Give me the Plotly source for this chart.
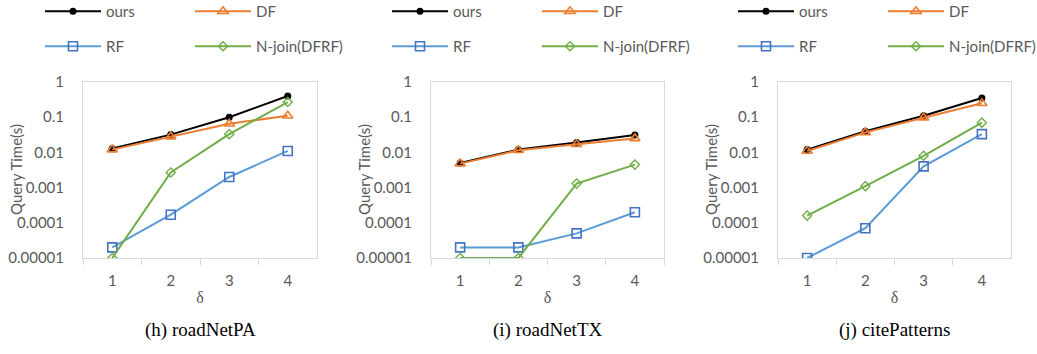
import plotly.graph_objects as go

deltas = ["1", "2", "3", "4"]
series_names = ["ours", "DF", "RF", "N-join(DFRF)"]
captions = ["(h) roadNetPA", "(i) roadNetTX", "(j) citePatterns"]

pa_ours = [0.013, 0.032, 0.10, 0.40]
pa_df = [0.012, 0.028, 0.065, 0.11]
pa_rf = [0.00002, 0.00017, 0.002, 0.011]
pa_nj = [0.00001, 0.0027, 0.033, 0.27]

tx_ours = [0.005, 0.012, 0.019, 0.031]
tx_df = [0.0048, 0.0115, 0.017, 0.025]
tx_rf = [0.00002, 0.00002, 0.00005, 0.0002]
tx_nj = [0.00001, 0.00001, 0.0013, 0.0045]

cp_ours = [0.012, 0.040, 0.11, 0.35]
cp_df = [0.011, 0.037, 0.097, 0.25]
cp_rf = [0.00001, 0.00007, 0.004, 0.033]
cp_nj = [0.00016, 0.0011, 0.008, 0.07]

y_tickvals = [0.00001, 0.0001, 0.001, 0.01, 0.1, 1]
y_ticktext = ["0.00001", "0.0001", "0.001", "0.01", "0.1", "1"]

panels = [
    [pa_ours, pa_df, pa_rf, pa_nj],
    [tx_ours, tx_df, tx_rf, tx_nj],
    [cp_ours, cp_df, cp_rf, cp_nj],
]

W, H = 1037, 354
GRAY = "#595959"
BORDER = "#d9d9d9"
FONT = "Lato"
FS = 15

styles = [
    dict(line=dict(color="#000000", width=2),
         marker=dict(symbol="circle", size=7, color="#000000")),
    dict(line=dict(color="#ED7D31", width=2),
         marker=dict(symbol="triangle-up-open", size=9, color="#ED7D31",
                     line=dict(width=1.6, color="#ED7D31"))),
    dict(line=dict(color="#5B9BD5", width=2),
         marker=dict(symbol="square-open", size=9, color="#4472C4",
                     line=dict(width=1.6, color="#4472C4"))),
    dict(line=dict(color="#70AD47", width=2),
         marker=dict(symbol="diamond-open", size=7, color="#70AD47",
                     line=dict(width=1.4, color="#70AD47"))),
]

# pixel geometry of plot areas
x_px = [(83, 317), (431, 664), (778, 1011)]
y_top, y_bot = 82, 258
legend_x_px = [40, 387, 733]
ytitle_x_px = [16, 364, 711]

fig = go.Figure()
layout = dict(
    width=W, height=H,
    margin=dict(l=0, r=0, t=0, b=0, autoexpand=False),
    paper_bgcolor="white", plot_bgcolor="white",
    font=dict(family=FONT, size=FS, color=GRAY),
    showlegend=True,
)
annotations = []

for p, data in enumerate(panels):
    xa = "x" if p == 0 else f"x{p+1}"
    ya = "y" if p == 0 else f"y{p+1}"
    for s, vals in enumerate(data):
        leg_idx = p * 4 + s + 1
        leg = "legend" if leg_idx == 1 else f"legend{leg_idx}"
        fig.add_trace(go.Scatter(
            x=deltas, y=vals, mode="lines+markers", name=series_names[s],
            xaxis=xa, yaxis=ya, legend=leg, **styles[s]))
        row, col = s // 2, s % 2
        layout[leg] = dict(
            orientation="h", x=(legend_x_px[p] + 150 * col) / W, xanchor="left",
            y=1 + (5 if row == 0 else -30) / H, yanchor="top",
            itemwidth=56,
            font=dict(family=FONT, size=FS, color=GRAY),
            bgcolor="rgba(0,0,0,0)", borderwidth=0, itemclick=False,
        )
    x0, x1 = x_px[p]
    xkey = "xaxis" if p == 0 else f"xaxis{p+1}"
    ykey = "yaxis" if p == 0 else f"yaxis{p+1}"
    layout[xkey] = dict(
        domain=[x0 / W, x1 / W], anchor=ya, type="category",
        range=[-0.5, 3.5], showline=True, mirror=True, linecolor=BORDER,
        linewidth=1, ticks="outside", tickson="boundaries", ticklen=6,
        tickcolor=BORDER, showgrid=False, zeroline=False, automargin=False,
        tickfont=dict(family=FONT, size=FS, color=GRAY), ticklabelstandoff=9,
        title=dict(text="δ", font=dict(family="Liberation Serif", size=16, color=GRAY),
                   standoff=3),
    )
    layout[ykey] = dict(
        domain=[1 - y_bot / H, 1 - y_top / H], anchor=xa, type="log",
        range=[-5, 0], showline=True, mirror=True, linecolor=BORDER,
        linewidth=1, ticks="", showgrid=False, zeroline=False, automargin=False,
        tickvals=y_tickvals, ticktext=y_ticktext,
        tickfont=dict(family=FONT, size=FS, color=GRAY), ticklabelstandoff=15,
    )
    annotations.append(dict(
        text="Query Time(s)", xref="paper", yref="paper", textangle=-90,
        x=ytitle_x_px[p] / W, y=1 - (y_top + y_bot) / 2 / H,
        xanchor="center", yanchor="middle", showarrow=False,
        font=dict(family=FONT, size=FS, color=GRAY)))
    annotations.append(dict(
        text=captions[p], xref="paper", yref="paper",
        x=(x0 + x1) / 2 / W, y=1 - 330 / H, xanchor="center", yanchor="middle",
        showarrow=False, font=dict(family="Liberation Serif", size=19, color="#000000")))

layout["annotations"] = annotations
fig.update_layout(**layout)
fig.write_html("out.html")
